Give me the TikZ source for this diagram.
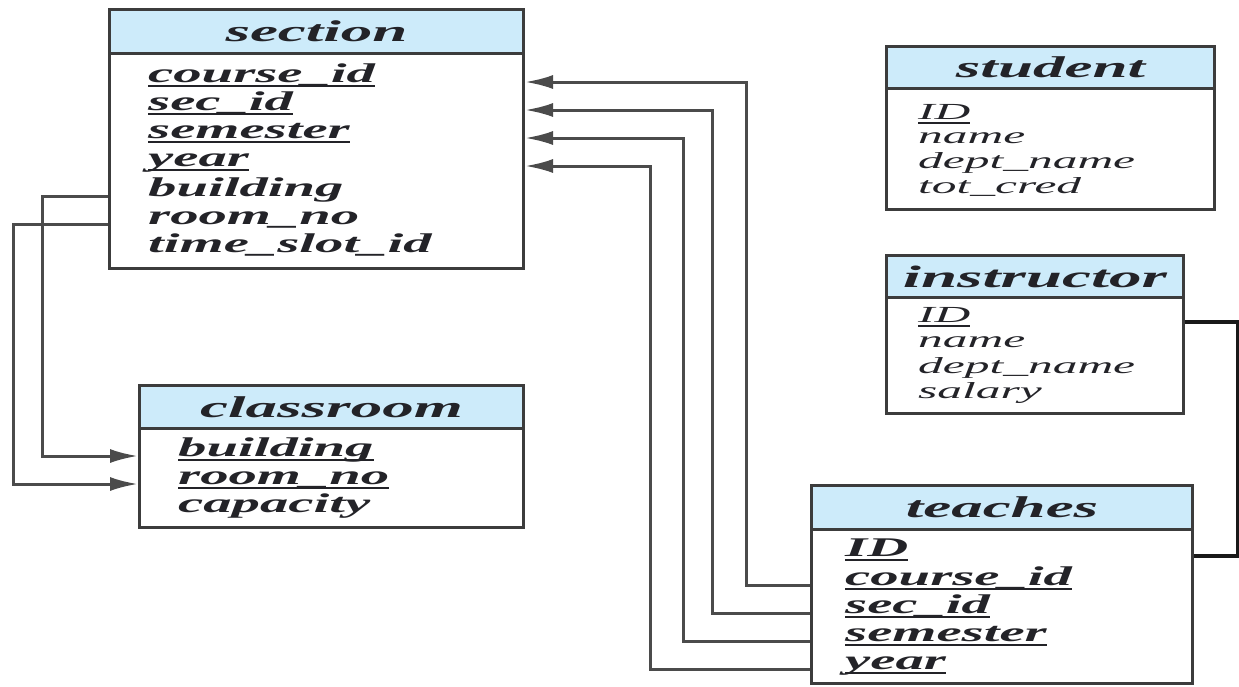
\documentclass[tikz,border=0pt]{standalone}
\usepackage{fontspec}
\usetikzlibrary{arrows.meta,calc}
\newfontfamily\erfont[FakeStretch=2.1]{Liberation Serif}
\newfontfamily\erfontlight[FakeStretch=2.15]{Liberation Serif}
\definecolor{headc}{RGB}{205,235,250}
\definecolor{boxc}{RGB}{60,60,60}
\definecolor{linec}{RGB}{75,75,75}
\definecolor{txtc}{RGB}{35,35,40}
\newcommand\rowfnt{\erfont\bfseries\itshape\fontsize{27}{28}\selectfont}
\newcommand\smallrowfnt{\erfontlight\itshape\fontsize{23}{25}\selectfont}
\newcommand\hdfnt{\erfont\bfseries\itshape\fontsize{30}{32}\selectfont}
\newcommand\pk[1]{\setbox0\hbox{#1}\rlap{\rule[-4.5pt]{\wd0}{1.8pt}}\box0}
\begin{document}
\begin{tikzpicture}[x=1pt,y=-1pt,
  tblhead/.style={draw=boxc, line width=3pt, fill=headc, inner sep=0pt, anchor=north west, font=\hdfnt, text=txtc},
  tblbody/.style={draw=boxc, line width=3pt, inner sep=0pt, anchor=north west},
  attr/.style={anchor=base west, inner sep=0pt, font=\rowfnt, text=txtc},
  sattr/.style={anchor=base west, inner sep=0pt, font=\smallrowfnt, text=txtc},
  fk/.style={draw=linec, line width=3pt, -{Latex[length=28pt,width=14pt]}},
  link/.style={draw=black!90, line width=3.2pt}]
\useasboundingbox (0,0) rectangle (1239,686);
\fill[white] (0,0) rectangle (1239,686);

% section
\node[tblbody, minimum width=414pt, minimum height=215pt] (secB) at (108,52) {};
\node[tblhead, minimum width=414pt, minimum height=44pt] (secH) at (108,8) {section};
\node[attr] (sec-course) at (148,82) {\pk{course\_id}};
\node[attr] (sec-sec) at (148,110) {\pk{sec\_id}};
\node[attr] (sec-sem) at (148,138) {\pk{semester}};
\node[attr] (sec-year) at (148,166) {\pk{year}};
\node[attr] (sec-bld) at (148,196) {building};
\node[attr] (sec-room) at (148,224) {room\_no};
\node[attr] (sec-ts) at (148,252) {time\_slot\_id};

% classroom
\node[tblbody, minimum width=384pt, minimum height=99pt] (clsB) at (138,427) {};
\node[tblhead, minimum width=384pt, minimum height=43pt] (clsH) at (138,384) {classroom};
\node[attr] (cls-bld) at (178,456) {\pk{building}};
\node[attr] (cls-room) at (178,484) {\pk{room\_no}};
\node[attr] (cls-cap) at (178,512) {capacity};

% student
\node[tblbody, minimum width=328pt, minimum height=121pt] (stuB) at (885,87) {};
\node[tblhead, minimum width=328pt, minimum height=42pt] (stuH) at (885,45) {student};
\node[sattr] (stu-id) at (918,119) {\pk{ID}};
\node[sattr] (stu-name) at (918,143) {name};
\node[sattr] (stu-dept) at (918,168) {dept\_name};
\node[sattr] (stu-cred) at (918,193) {tot\_cred};

% instructor
\node[tblbody, minimum width=297pt, minimum height=116pt] (insB) at (885,296) {};
\node[tblhead, minimum width=297pt, minimum height=42pt, font=\erfont\bfseries\itshape\fontsize{31}{34}\selectfont] (insH) at (885,254) {instructor};
\node[sattr] (ins-id) at (918,322) {\pk{ID}};
\node[sattr] (ins-name) at (918,347) {name};
\node[sattr] (ins-dept) at (918,373) {dept\_name};
\node[sattr] (ins-sal) at (918,398) {salary};

% teaches
\node[tblbody, minimum width=381pt, minimum height=154pt] (tchB) at (810,528) {};
\node[tblhead, minimum width=381pt, minimum height=44pt] (tchH) at (810,484) {teaches};
\node[attr] (tch-id) at (845,556) {\pk{ID}};
\node[attr] (tch-course) at (845,585) {\pk{course\_id}};
\node[attr] (tch-sec) at (845,613) {\pk{sec\_id}};
\node[attr] (tch-sem) at (845,641) {\pk{semester}};
\node[attr] (tch-year) at (845,669) {\pk{year}};

% section -> classroom
\draw[fk] (sec-bld.base -| secB.west) -- ++(-66,0) |- (cls-bld.base -| clsB.west);
\draw[fk] (sec-room.base -| secB.west) -- ++(-95,0) |- (cls-room.base -| clsB.west);

% teaches -> section
\draw[fk] (tch-course.base -| tchB.west) -- ++(-64,0) |- (sec-course.base -| secB.east);
\draw[fk] (tch-sec.base -| tchB.west) -- ++(-98,0) |- (sec-sec.base -| secB.east);
\draw[fk] (tch-sem.base -| tchB.west) -- ++(-127,0) |- (sec-sem.base -| secB.east);
\draw[fk] (tch-year.base -| tchB.west) -- ++(-160,0) |- (sec-year.base -| secB.east);

% instructor -- teaches
\draw[link] (ins-id.base -| insB.east) -- ++(53,0) |- (tch-id.base -| tchB.east);
\end{tikzpicture}
\end{document}
